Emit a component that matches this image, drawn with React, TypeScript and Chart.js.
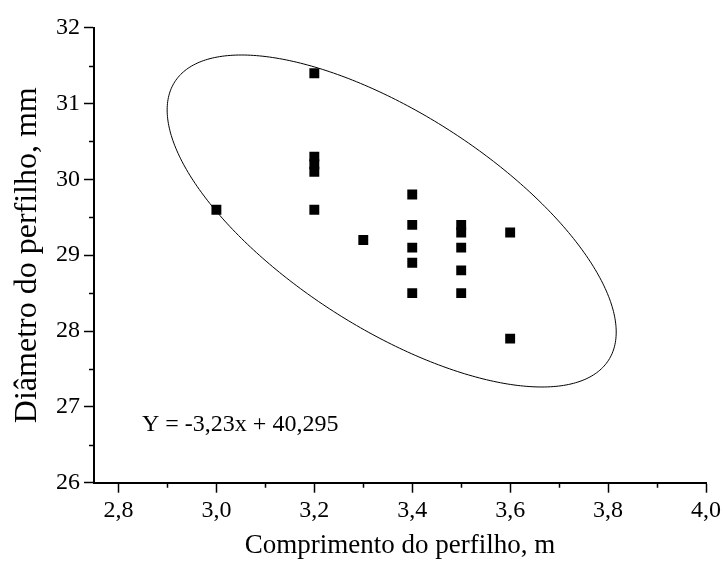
import React, { useEffect, useRef } from 'react';
import { Chart, registerables } from 'chart.js';

Chart.register(...registerables);

// Data
const lengthValues = [3.0, 3.2, 3.2, 3.2, 3.2, 3.2, 3.3, 3.4, 3.4, 3.4, 3.4, 3.4, 3.5, 3.5, 3.5, 3.5, 3.5, 3.6, 3.6];
const diameterValues = [29.6, 31.4, 30.3, 30.2, 30.1, 29.6, 29.2, 29.8, 29.4, 29.1, 28.9, 28.5, 29.4, 29.3, 29.1, 28.8, 28.5, 29.3, 27.9];

// Axis ticks
const xMajorTicks = [2.8, 3.0, 3.2, 3.4, 3.6, 3.8, 4.0];
const xMinorTicks = [2.9, 3.1, 3.3, 3.5, 3.7, 3.9];
const yMajorTicks = [26, 27, 28, 29, 30, 31, 32];
const yMinorTicks = [26.5, 27.5, 28.5, 29.5, 30.5, 31.5];
const xRange = [2.75, 4.0];
const yRange = [26, 32];

// Texts
const xTitle = 'Comprimento do perfilho, m';
const yTitle = 'Diâmetro do perfilho, mm';
const equationText = 'Y = -3,23x + 40,295';
const equationAnchor = [2.848, 26.68];

// Confidence ellipse (data units): centre, half-extent in x and y, correlation
const ellipseCenter = [3.358, 29.451];
const ellipseSpread = [0.4586, 2.189];
const ellipseCorrelation = -0.669;

const FONT = '"Liberation Serif", "Times New Roman", serif';

const overlayPlugin = {
  id: 'overlay',
  beforeDatasetsDraw(chart: any) {
    const { ctx, scales } = chart;
    const xs = scales.x;
    const ys = scales.y;
    const [cx, cy] = ellipseCenter;
    const [sx, sy] = ellipseSpread;
    const rho = ellipseCorrelation;
    const k = Math.sqrt(1 - rho * rho);
    ctx.save();
    ctx.beginPath();
    const steps = 360;
    for (let i = 0; i <= steps; i++) {
      const t = (i / steps) * Math.PI * 2;
      const dx = sx * Math.cos(t);
      const dy = sy * (rho * Math.cos(t) + k * Math.sin(t));
      const px = xs.getPixelForValue(cx + dx);
      const py = ys.getPixelForValue(cy + dy);
      if (i === 0) ctx.moveTo(px, py);
      else ctx.lineTo(px, py);
    }
    ctx.closePath();
    ctx.strokeStyle = '#000';
    ctx.lineWidth = 1;
    ctx.stroke();
    ctx.restore();
  },
  afterDraw(chart: any) {
    const { ctx, scales, chartArea } = chart;
    const xs = scales.x;
    const ys = scales.y;
    ctx.save();
    ctx.strokeStyle = '#000';
    ctx.lineWidth = 1.5;
    ctx.beginPath();
    for (const v of xMinorTicks) {
      const px = Math.round(xs.getPixelForValue(v)) + 0.5;
      ctx.moveTo(px, chartArea.bottom);
      ctx.lineTo(px, chartArea.bottom + 5);
    }
    for (const v of yMinorTicks) {
      const py = Math.round(ys.getPixelForValue(v)) + 0.5;
      ctx.moveTo(chartArea.left, py);
      ctx.lineTo(chartArea.left - 5, py);
    }
    ctx.stroke();
    ctx.fillStyle = '#000';
    ctx.font = `24px ${FONT}`;
    ctx.textAlign = 'left';
    ctx.textBaseline = 'alphabetic';
    ctx.fillText(
      equationText,
      xs.getPixelForValue(equationAnchor[0]),
      ys.getPixelForValue(equationAnchor[1])
    );
    ctx.restore();
  },
};

export default function App() {
  const canvasRef = useRef<HTMLCanvasElement | null>(null);

  useEffect(() => {
    if (!canvasRef.current) return;
    const chart = new Chart(canvasRef.current, {
      type: 'scatter',
      data: {
        datasets: [
          {
            data: lengthValues.map((x, i) => ({ x, y: diameterValues[i] })),
            pointStyle: 'rect',
            pointRadius: 7,
            pointHoverRadius: 7,
            backgroundColor: '#000',
            borderColor: '#000',
            borderWidth: 0,
          },
        ],
      },
      options: {
        animation: false,
        responsive: true,
        maintainAspectRatio: false,
        events: [],
        layout: { padding: { top: 27.7, right: 17, bottom: 0, left: 0 } },
        plugins: {
          legend: { display: false },
          tooltip: { enabled: false },
        },
        scales: {
          x: {
            type: 'linear',
            min: xRange[0],
            max: xRange[1],
            afterBuildTicks: (scale: any) => {
              scale.ticks = xMajorTicks.map((v) => ({ value: v }));
            },
            afterFit: (scale: any) => {
              scale.height = 81.3;
              scale.paddingLeft = 0;
              scale.paddingRight = 0;
            },
            ticks: {
              autoSkip: false,
              maxRotation: 0,
              padding: 4,
              color: '#000',
              font: { family: FONT, size: 24 },
              callback: (v: any) => Number(v).toFixed(1).replace('.', ','),
            },
            grid: {
              drawOnChartArea: false,
              drawTicks: true,
              tickLength: 10,
              tickWidth: 1.5,
              tickColor: '#000',
            },
            border: { display: true, color: '#000', width: 2 },
            title: {
              display: true,
              text: xTitle,
              color: '#000',
              font: { family: FONT, size: 27 },
              padding: { top: 0, bottom: 2 },
            },
          },
          y: {
            type: 'linear',
            min: yRange[0],
            max: yRange[1],
            afterBuildTicks: (scale: any) => {
              scale.ticks = yMajorTicks.map((v) => ({ value: v }));
            },
            afterFit: (scale: any) => {
              scale.width = 94;
              scale.paddingTop = 0;
              scale.paddingBottom = 0;
            },
            ticks: {
              autoSkip: false,
              padding: 4,
              color: '#000',
              font: { family: FONT, size: 24 },
              callback: (v: any) => String(v),
            },
            grid: {
              drawOnChartArea: false,
              drawTicks: true,
              tickLength: 10,
              tickWidth: 1.5,
              tickColor: '#000',
            },
            border: { display: true, color: '#000', width: 2 },
            title: {
              display: true,
              text: yTitle,
              color: '#000',
              font: { family: FONT, size: 32 },
              padding: { top: 8, bottom: 0 },
            },
          },
        },
      },
      plugins: [overlayPlugin],
    } as any);
    return () => chart.destroy();
  }, []);

  return (
    <div style={{ position: 'fixed', left: 0, top: 0, width: 723, height: 564, background: '#fff' }}>
      <canvas ref={canvasRef} />
    </div>
  );
}
